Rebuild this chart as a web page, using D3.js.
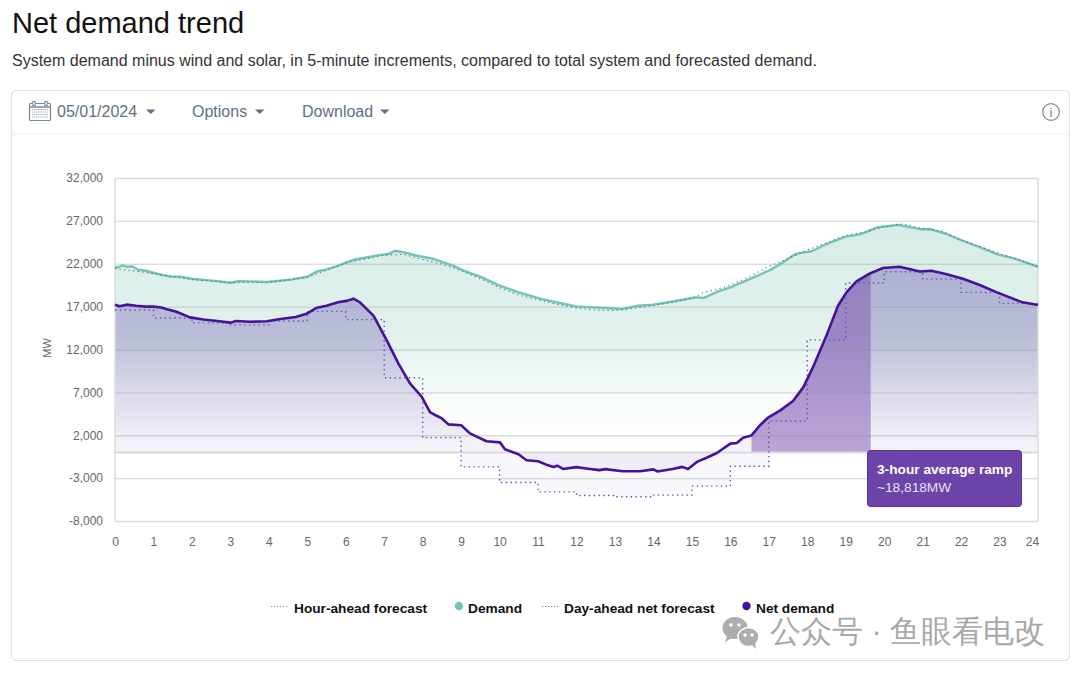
<!DOCTYPE html>
<html>
<head>
<meta charset="utf-8">
<script src="https://cdn.jsdelivr.net/npm/d3@7"></script>
<style>
    html, body { margin: 0; padding: 0; background: #fff; }
    svg { display: block; }
    text { font-family: "Liberation Sans", Arial, sans-serif; }
</style>
</head>
<body>
<svg id="chart" width="1080" height="675"></svg>
<script>
var hourTicks = d3.range(0, 25);
var mwTicks = [-8000, -3000, 2000, 7000, 12000, 17000, 22000, 27000, 32000];

var demandHours = [0, 0.1, 0.2, 0.3, 0.45, 0.6, 0.8, 1, 1.2, 1.43, 1.7, 2, 2.3, 2.6, 3, 3.2, 3.5, 3.95, 4.3, 4.6, 5, 5.25, 5.5, 5.8, 6.02, 6.2, 6.5, 6.9, 7.1, 7.28, 7.5, 7.85, 8.3, 8.8, 9.1, 9.5, 10, 10.5, 11.05, 11.5, 12, 12.5, 13.2, 13.6, 14, 14.5, 15, 15.13, 15.3, 15.7, 16, 16.5, 17.03, 17.4, 17.68, 17.9, 18.1, 18.5, 18.98, 19.4, 19.8, 20.36, 20.93, 21.2, 21.6, 22.05, 22.5, 22.93, 23.4, 24];
var demandValues = [21570, 21620, 21820, 21650, 21700, 21300, 21180, 20950, 20720, 20520, 20480, 20250, 20120, 20000, 19790, 19960, 19950, 19870, 20020, 20180, 20490, 21100, 21350, 21750, 22150, 22460, 22700, 23040, 23130, 23510, 23350, 22930, 22550, 21760, 21150, 20500, 19440, 18660, 17930, 17480, 17030, 16900, 16730, 17100, 17230, 17600, 18000, 18080, 18000, 18800, 19240, 20210, 21260, 22250, 23120, 23330, 23430, 24300, 25140, 25450, 26220, 26530, 26030, 26030, 25500, 24670, 23900, 23120, 22600, 21650];

var hourAheadHours = [0, 1, 2, 3, 4, 5, 6, 7, 7.5, 8, 8.5, 9, 9.5, 10, 10.5, 11, 11.5, 12, 12.5, 13, 13.5, 14, 14.5, 15, 15.3, 15.6, 16, 16.5, 17, 17.5, 18, 18.5, 19, 19.5, 20, 20.5, 21, 21.5, 22, 22.5, 23, 23.5, 24];
var hourAheadValues = [21450, 20850, 20150, 19800, 19820, 20400, 22100, 23000, 23100, 22500, 21950, 21200, 20250, 19200, 18350, 17800, 17250, 16850, 16600, 16550, 16800, 17150, 17500, 17950, 18650, 18950, 19500, 20500, 21700, 22600, 23600, 24450, 25300, 25700, 26300, 26650, 26100, 25800, 24750, 24000, 23150, 22450, 21650];

var dayAheadHours = d3.range(0, 25);
var dayAheadValues = [16610, 15680, 15100, 14870, 15330, 16450, 15480, 8700, 1720, -1690, -3510, -4600, -5020, -5180, -4980, -3930, -1610, 3660, 13120, 19750, 21070, 20210, 18660, 17380, 17380];

var netHours = [0, 0.12, 0.3, 0.55, 0.8, 1, 1.2, 1.35, 1.6, 1.95, 2.3, 2.6, 3, 3.15, 3.5, 3.95, 4.3, 4.7, 4.98, 5.25, 5.5, 5.8, 6.05, 6.2, 6.37, 6.72, 7.07, 7.37, 7.67, 7.97, 8.19, 8.35, 8.5, 8.67, 9, 9.23, 9.66, 10.01, 10.14, 10.49, 10.7, 11, 11.2, 11.4, 11.5, 11.65, 12, 12.3, 12.6, 12.75, 13.2, 13.65, 14, 14.1, 14.5, 14.75, 14.9, 15.13, 15.4, 15.65, 16, 16.17, 16.33, 16.55, 16.77, 16.98, 17.3, 17.63, 17.9, 18.15, 18.5, 18.8, 19.02, 19.28, 19.63, 19.97, 20.4, 20.93, 21.23, 21.6, 22.05, 22.5, 22.93, 23.6, 24];
var netValues = [17230, 17050, 17230, 17100, 17000, 17000, 16900, 16700, 16400, 15750, 15500, 15350, 15130, 15320, 15230, 15290, 15550, 15800, 16160, 16880, 17100, 17500, 17700, 17930, 17500, 15950, 13040, 10360, 8040, 6520, 4700, 4300, 3960, 3270, 3160, 2220, 1300, 1170, 360, -220, -910, -1030, -1400, -1690, -1550, -1930, -1720, -1900, -2070, -1950, -2190, -2200, -1980, -2220, -1930, -1690, -1930, -1110, -600, -70, 1020, 1090, 1720, 1980, 3160, 4050, 4900, 6000, 7610, 9940, 13620, 17100, 18660, 19940, 20870, 21500, 21650, 21100, 21180, 20800, 20250, 19500, 18660, 17500, 17200];

var rampStart = 16.55;
var rampEnd = 19.65;
var legendItems = ['Hour-ahead forecast', 'Demand', 'Day-ahead net forecast', 'Net demand'];

var svg = d3.select('#chart');
var defs = svg.append('defs');

var x = d3.scaleLinear().domain([0, 24]).range([115, 1038]);
var y = d3.scaleLinear().domain([-8000, 32000]).range([521, 178]);

function addGradient(id, stops) {
    var g = defs.append('linearGradient').attr('id', id)
        .attr('gradientUnits', 'userSpaceOnUse')
        .attr('x1', 0).attr('x2', 0).attr('y1', y(27000)).attr('y2', y(0));
    stops.forEach(function(s) {
        g.append('stop').attr('offset', s[0]).attr('stop-color', s[1]).attr('stop-opacity', s[2]);
    });
}
addGradient('demandFill', [[0, '#cfe9e1', 0.85], [0.5, '#d5ece6', 0.7], [1, '#ffffff', 0.2]]);
addGradient('netFill', [[0, '#4b2a9c', 0.36], [0.5, '#4b2a9c', 0.26], [1, '#4b2a9c', 0.05]]);

drawHeader();
drawCard();

// areas go under the grid so the lines still show through
function zip(hours, values) {
    return hours.map(function(h, i) { return {h: h, v: values[i]}; });
}
var demand = zip(demandHours, demandValues);
var hourAhead = zip(hourAheadHours, hourAheadValues);
var dayAhead = zip(dayAheadHours, dayAheadValues);
var net = zip(netHours, netValues);

var area = d3.area().x(function(d) {return x(d.h); }).y0(y(0)).y1(function(d) {return y(d.v); });
var line = d3.line().x(function(d) {return x(d.h); }).y(function(d) {return y(d.v); });

svg.append('path').attr('d', area(demand)).attr('fill', 'url(#demandFill)');
svg.append('path').attr('d', area.curve(d3.curveStepAfter)(dayAhead.filter(function(d) {return d.h >= 9 && d.h <= 17; })))
    .attr('fill', '#8f7cc4').attr('fill-opacity', 0.06);
area.curve(d3.curveLinear);
svg.append('path').attr('d', area(net)).attr('fill', 'url(#netFill)');

// ramp shading, clipped to the time window
defs.append('clipPath').attr('id', 'rampClip').append('rect')
    .attr('x', x(rampStart)).attr('width', x(rampEnd) - x(rampStart))
    .attr('y', y(32000)).attr('height', y(0) - y(32000));
svg.append('path').attr('d', area(net)).attr('clip-path', 'url(#rampClip)')
    .attr('fill', '#7a4fb0').attr('fill-opacity', 0.48);

// axes
var hyphenFormat = d3.formatLocale({decimal: '.', thousands: ',', grouping: [3], currency: ['$', ''], minus: '-'}).format(',');
var yAxis = d3.axisLeft(y).tickValues(mwTicks).tickSize(-(x(24) - x(0))).tickPadding(12).tickFormat(hyphenFormat);
var xAxis = d3.axisBottom(x).tickValues(hourTicks).tickSize(0).tickPadding(16);

var gy = svg.append('g').attr('transform', 'translate(' + x(0) + ',0)').call(yAxis);
gy.select('.domain').remove();
gy.selectAll('.tick line').attr('stroke', '#8c8c8c').attr('stroke-opacity', 0.3).attr('stroke-width', 1.4);
gy.selectAll('.tick text').attr('fill', '#666').attr('font-size', 12).attr('font-family', '"Liberation Sans", Arial, sans-serif');

var gx = svg.append('g').attr('transform', 'translate(0,' + y(-8000) + ')').call(xAxis);
gx.select('.domain').remove();
gx.selectAll('.tick text').attr('fill', '#666').attr('font-size', 12).attr('font-family', '"Liberation Sans", Arial, sans-serif');
// last label is pulled in so it stays inside the plot
gx.selectAll('.tick text').filter(function(d) {return d === 24; }).attr('dx', -6);

[0, 24].forEach(function(h) {
    svg.append('line').attr('x1', x(h)).attr('x2', x(h)).attr('y1', y(32000)).attr('y2', y(-8000))
        .attr('stroke', '#dcdcdc').attr('stroke-width', 1.5);
});
svg.append('line').attr('x1', x(0)).attr('x2', x(24)).attr('y1', y(0)).attr('y2', y(0))
    .attr('stroke', '#d9d9de').attr('stroke-width', 2);

svg.append('text').attr('transform', 'translate(51,348) rotate(-90)').attr('text-anchor', 'middle')
    .attr('font-size', 11).attr('fill', '#666').text('MW');

// lines
svg.append('path').attr('d', line.curve(d3.curveStepAfter)(dayAhead)).attr('fill', 'none')
    .attr('stroke', '#6a4db5').attr('stroke-width', 1.4).attr('stroke-dasharray', '1.4 3.4');
svg.append('path').attr('d', line.curve(d3.curveLinear)(demand)).attr('fill', 'none')
    .attr('stroke', '#72c6b2').attr('stroke-width', 2.4).attr('stroke-linejoin', 'round');
svg.append('path').attr('d', line(hourAhead)).attr('fill', 'none')
    .attr('stroke', '#5a5fa8').attr('stroke-width', 1.1).attr('stroke-dasharray', '1.2 3.4');
svg.append('path').attr('d', line(net)).attr('fill', 'none')
    .attr('stroke', '#45139a').attr('stroke-width', 2.6).attr('stroke-linejoin', 'round');

drawTooltip();
drawLegend();
drawWatermark();


function drawHeader() {
    svg.append('text').attr('x', 12).attr('y', 33).attr('font-size', 29)
        .attr('fill', '#111').text('Net demand trend');
    svg.append('text').attr('x', 12).attr('y', 66).attr('font-size', 16)
        .attr('fill', '#333').text('System demand minus wind and solar, in 5-minute increments, compared to total system and forecasted demand.');
}

function drawCard() {
    svg.append('rect').attr('x', 11.5).attr('y', 90.5).attr('width', 1058).attr('height', 570).attr('rx', 5)
        .attr('fill', '#fff').attr('stroke', '#e2e2e2').attr('stroke-width', 1.2);
    svg.append('line').attr('x1', 12).attr('x2', 1069).attr('y1', 134).attr('y2', 134)
        .attr('stroke', '#f4f4f4').attr('stroke-width', 1.5);

    // calendar icon
    var cal = svg.append('g').attr('stroke', '#76879b').attr('fill', 'none');
    cal.append('rect').attr('x', 29.5).attr('y', 103.5).attr('width', 21).attr('height', 17).attr('rx', 1).attr('stroke-width', 1.2);
    cal.append('line').attr('x1', 30).attr('x2', 50).attr('y1', 107).attr('y2', 107).attr('stroke-width', 1.5);
    [34, 46].forEach(function(cx) {
        cal.append('rect').attr('x', cx - 1.2).attr('y', 101.5).attr('width', 2.4).attr('height', 4).attr('fill', '#fff').attr('stroke-width', 1);
    });
    d3.range(4).forEach(function(row) {
        cal.append('line').attr('x1', 32).attr('x2', 48).attr('y1', 109.5 + row * 2.5).attr('y2', 109.5 + row * 2.5)
            .attr('stroke', '#9aa8b8').attr('stroke-width', 1.2).attr('stroke-dasharray', '1.2 0.9');
    });

    [['05/01/2024', 57, 146], ['Options', 192, 255], ['Download', 302, 380]].forEach(function(b) {
        svg.append('text').attr('x', b[1]).attr('y', 117).attr('font-size', 16)
            .attr('fill', '#5f7186').text(b[0]);
        svg.append('path').attr('d', 'M' + b[2] + ',109.5h9.5l-4.75,4.5z').attr('fill', '#5f7186');
    });

    svg.append('circle').attr('cx', 1051).attr('cy', 112).attr('r', 8.3).attr('fill', 'none')
        .attr('stroke', '#76879b').attr('stroke-width', 1.2);
    svg.append('text').attr('x', 1051).attr('y', 117).attr('text-anchor', 'middle').attr('font-size', 13)
        .attr('fill', '#76879b').text('i');
}

function drawTooltip() {
    svg.append('rect').attr('x', 867.5).attr('y', 450.5).attr('width', 154).attr('height', 56).attr('rx', 3)
        .attr('fill', '#6c43a9').attr('stroke', '#5c2fa3').attr('stroke-width', 1);
    svg.append('text').attr('x', 877).attr('y', 474).attr('font-size', 13.7).attr('font-weight', 'bold')
        .attr('fill', '#fff').text('3-hour average ramp');
    svg.append('text').attr('x', 877).attr('y', 492).attr('font-size', 13.7)
        .attr('fill', '#e8e0f3').text('~18,818MW');
}

function drawLegend() {
    var ly = 612.5;
    var dotted = [[271, '#8f93cc'], [542, '#8a70c4']];
    dotted.forEach(function(d) {
        svg.append('line').attr('x1', d[0]).attr('x2', d[0] + 17).attr('y1', 606.5).attr('y2', 606.5)
            .attr('stroke', d[1]).attr('stroke-width', 1.2).attr('stroke-dasharray', '1.2 1.8');
    });
    svg.append('circle').attr('cx', 459).attr('cy', 606).attr('r', 4.2).attr('fill', '#72c6b2');
    svg.append('circle').attr('cx', 746.5).attr('cy', 606).attr('r', 4.2).attr('fill', '#45139a');
    [294, 468, 564, 756].forEach(function(tx, i) {
        svg.append('text').attr('x', tx).attr('y', ly).attr('font-size', 13.7).attr('font-weight', 'bold')
            .attr('fill', '#111').text(legendItems[i]);
    });
}

function drawWatermark() {
    var wm = svg.append('g').attr('fill', '#adadad');
    wm.append('ellipse').attr('cx', 735).attr('cy', 628).attr('rx', 12.5).attr('ry', 11);
    wm.append('path').attr('d', 'M727,636l-2,6l7,-4z');
    wm.append('ellipse').attr('cx', 748.5).attr('cy', 637).attr('rx', 10.5).attr('ry', 9.5)
        .attr('stroke', '#fff').attr('stroke-width', 1.5);
    wm.append('path').attr('d', 'M752,645l4,4l-1,-6z');
    [[731, 625], [739, 625], [745, 635], [752, 635]].forEach(function(p) {
        wm.append('circle').attr('cx', p[0]).attr('cy', p[1]).attr('r', 1.7).attr('fill', '#fff');
    });
    svg.append('text').attr('x', 770).attr('y', 642).attr('font-size', 30.6)
        .attr('font-family', '"Noto Sans CJK SC", sans-serif').attr('fill', '#a8a8a8')
        .text('公众号 · 鱼眼看电改');
}
</script>
</body>
</html>
